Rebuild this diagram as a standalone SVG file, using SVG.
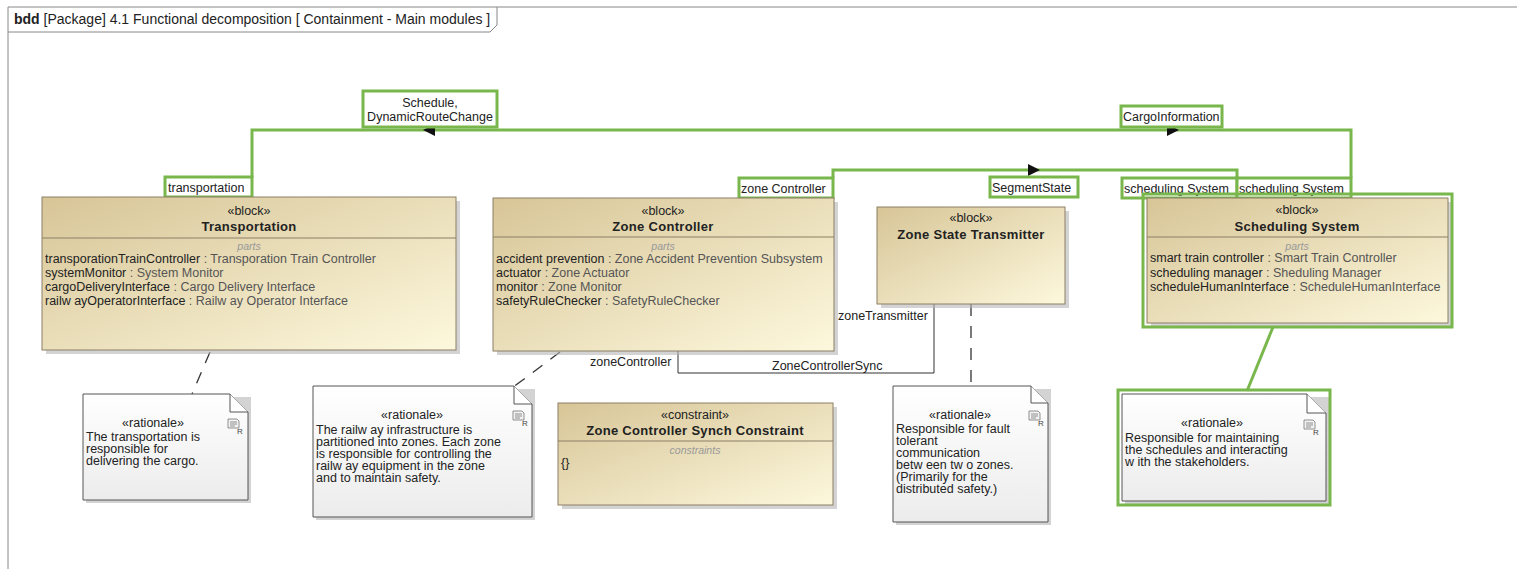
<svg xmlns="http://www.w3.org/2000/svg" width="1517" height="569" viewBox="0 0 1517 569">
<style>
text{font-family:"Liberation Sans",Arial,sans-serif;font-size:12.5px;fill:#222}
.hd{font-size:14px}
.b{font-weight:bold;font-size:13px;letter-spacing:0.3px}
.st{text-anchor:middle}
.pt{font-style:italic;fill:#999;font-size:10.5px;text-anchor:middle}
.ty{fill:#555}
.blk{fill:url(#bg);stroke:#8c7f66;stroke-width:1}
.sh{fill:#b5b5b5;opacity:0.6}
.sep{stroke:#8c7f66;stroke-width:1}
.note{fill:url(#ng);stroke:#555;stroke-width:1}
.fold{fill:#fff;stroke:#555;stroke-width:1}
.g{fill:none;stroke:#79b74c;stroke-width:3}
.lbl{fill:#fff;stroke:#79b74c;stroke-width:3}
.dash{stroke:#333;stroke-width:1.3;stroke-dasharray:12,10;fill:none}
.ln{stroke:#333;stroke-width:1;fill:none}
.flow{fill:#111}
.frame{stroke:#888;stroke-width:1;fill:none}
</style>
<defs>
<linearGradient id="bg" x1="0" y1="0" x2="1" y2="1">
<stop offset="0" stop-color="#d7c597"/>
<stop offset="1" stop-color="#fdf8dd"/>
</linearGradient>
<linearGradient id="ng" x1="0" y1="0" x2="0" y2="1">
<stop offset="0" stop-color="#ffffff"/>
<stop offset="1" stop-color="#ececec"/>
</linearGradient>
<g id="ricon">
<path d="M0,0 H9 L11,2 V9 H0 Z" fill="#f2f2f2" stroke="#777" stroke-width="0.8"/>
<path d="M2,3 H9 M2,5 H9 M2,7 H7" stroke="#777" stroke-width="0.8"/>
<text x="9" y="15" style="font-size:8px;fill:#444">R</text>
</g>
</defs>
<rect width="1517" height="569" fill="#fff"/>

<g id="frame">
<path class="frame" d="M8,569 V7 H1517"/>
<path class="frame" d="M8,32 H490 L497,25 V7"/>
<text class="hd" x="14" y="24"><tspan font-weight="bold">bdd</tspan> [Package] 4.1 Functional decomposition [ Containment - Main modules ]</text>
</g>

<g id="connectors">
<polyline class="g" points="252,178 252,130 1351,130 1351,178"/>
<polyline class="g" points="833,178 833,170 1237,170 1237,178"/>
<polygon class="flow" points="435,124 435,136 423,130"/>
<polygon class="flow" points="1167,124 1167,136 1179,130"/>
<polygon class="flow" points="1028,164 1028,176 1040,170"/>
<polyline class="ln" points="678,351 678,373 934,373 934,304"/>
<line class="dash" x1="210" y1="352" x2="192" y2="394"/>
<line class="dash" x1="560" y1="352" x2="512" y2="388"/>
<line class="dash" x1="971" y1="304" x2="971" y2="386"/>
<line class="g" x1="1273" y1="327" x2="1247" y2="391"/>
<text x="838" y="320">zoneTransmitter</text>
<text x="590" y="366">zoneController</text>
<text x="772" y="370">ZoneControllerSync</text>
</g>

<g id="labels">
<rect class="lbl" x="165" y="177" width="87" height="20"/>
<text x="168" y="192">transportation</text>
<rect class="lbl" x="363" y="91" width="134" height="36"/>
<text class="st" x="430" y="107">Schedule,</text>
<text class="st" x="430" y="121">DynamicRouteChange</text>
<rect class="lbl" x="1121" y="106" width="101" height="21"/>
<text x="1123" y="121">CargoInformation</text>
<rect class="lbl" x="739" y="178" width="94" height="20"/>
<text x="741" y="193">zone Controller</text>
<rect class="lbl" x="990" y="177" width="88" height="20"/>
<text x="992" y="192">SegmentState</text>
</g>

<g id="transportation">
<rect class="sh" x="46" y="201" width="414" height="153"/>
<rect class="blk" x="42" y="197" width="414" height="153"/>
<text class="st" x="249" y="215">«block»</text>
<text class="st b" x="249" y="231">Transportation</text>
<line class="sep" x1="42" y1="238" x2="456" y2="238"/>
<text class="pt" x="249" y="250">parts</text>
<text x="45" y="263">transporationTrainController<tspan class="ty"> : Transporation Train Controller</tspan></text>
<text x="45" y="277">systemMonitor<tspan class="ty"> : System Monitor</tspan></text>
<text x="45" y="291">cargoDeliveryInterface<tspan class="ty"> : Cargo Delivery Interface</tspan></text>
<text x="45" y="305">railw ayOperatorInterface<tspan class="ty"> : Railw ay Operator Interface</tspan></text>
</g>

<g id="zone-controller">
<rect class="sh" x="497" y="202" width="341" height="153"/>
<rect class="blk" x="493" y="198" width="341" height="153"/>
<text class="st" x="663" y="215">«block»</text>
<text class="st b" x="663" y="231">Zone Controller</text>
<line class="sep" x1="493" y1="237" x2="834" y2="237"/>
<text class="pt" x="663" y="250">parts</text>
<text x="496" y="263">accident prevention<tspan class="ty"> : Zone Accident Prevention Subsystem</tspan></text>
<text x="496" y="277">actuator<tspan class="ty"> : Zone Actuator</tspan></text>
<text x="496" y="291">monitor<tspan class="ty"> : Zone Monitor</tspan></text>
<text x="496" y="305">safetyRuleChecker<tspan class="ty"> : SafetyRuleChecker</tspan></text>
</g>

<g id="zone-state-transmitter">
<rect class="sh" x="881" y="211" width="188" height="97"/>
<rect class="blk" x="877" y="207" width="188" height="97"/>
<text class="st" x="971" y="222">«block»</text>
<text class="st b" x="971" y="239">Zone State Transmitter</text>
</g>

<g id="scheduling-system">
<rect class="lbl" x="1122" y="178" width="115" height="20"/>
<text x="1124" y="193">scheduling System</text>
<rect class="lbl" x="1237" y="178" width="114" height="20"/>
<text x="1239" y="193">scheduling System</text>
<rect class="sh" x="1151" y="202" width="301" height="125"/>
<rect class="g" x="1143" y="194" width="309" height="133"/>
<rect class="blk" x="1147" y="198" width="301" height="125"/>
<text class="st" x="1297" y="214">«block»</text>
<text class="st b" x="1297" y="231">Scheduling System</text>
<line class="sep" x1="1147" y1="237" x2="1448" y2="237"/>
<text class="pt" x="1297" y="250">parts</text>
<text x="1150" y="262">smart train controller<tspan class="ty"> : Smart Train Controller</tspan></text>
<text x="1150" y="277">scheduling manager<tspan class="ty"> : Sheduling Manager</tspan></text>
<text x="1150" y="291">scheduleHumanInterface<tspan class="ty"> : ScheduleHumanInterface</tspan></text>
</g>

<g id="constraint">
<rect class="sh" x="562" y="407" width="275" height="102"/>
<rect class="blk" x="558" y="403" width="275" height="102"/>
<text class="st" x="695" y="419">«constraint»</text>
<text class="st b" x="695" y="435">Zone Controller Synch Constraint</text>
<line class="sep" x1="558" y1="441" x2="833" y2="441"/>
<text class="pt" x="695" y="454">constraints</text>
<text x="561" y="467">{}</text>
</g>

<g id="note-transportation">
<path class="sh" d="M86,397 H251 V503 H86 Z"/>
<path class="note" d="M83,394 H230 L248,412 V500 H83 Z"/>
<path class="fold" d="M230,394 V412 H248"/>
<use href="#ricon" x="228" y="419"/>
<text class="st" x="153" y="427">«rationale»</text>
<text x="86" y="441">The transportation is</text>
<text x="86" y="453">responsible for</text>
<text x="86" y="465">delivering the cargo.</text>
</g>

<g id="note-railway">
<path class="sh" d="M316,389 H535 V520 H316 Z"/>
<path class="note" d="M313,386 H514 L532,404 V517 H313 Z"/>
<path class="fold" d="M514,386 V404 H532"/>
<use href="#ricon" x="513" y="411"/>
<text class="st" x="412" y="419">«rationale»</text>
<text x="316" y="434">The railw ay infrastructure is</text>
<text x="316" y="446">partitioned into zones. Each zone</text>
<text x="316" y="458">is responsible for controlling the</text>
<text x="316" y="470">railw ay equipment in the zone</text>
<text x="316" y="482">and to maintain safety.</text>
</g>

<g id="note-zst">
<path class="sh" d="M896,389 H1051 V525 H896 Z"/>
<path class="note" d="M893,386 H1031 L1048,403 V522 H893 Z"/>
<path class="fold" d="M1031,386 V403 H1048"/>
<use href="#ricon" x="1029" y="411"/>
<text class="st" x="960" y="419">«rationale»</text>
<text x="896" y="433">Responsible for fault</text>
<text x="896" y="445">tolerant</text>
<text x="896" y="457">communication</text>
<text x="896" y="469">betw een tw o zones.</text>
<text x="896" y="481">(Primarily for the</text>
<text x="896" y="493">distributed safety.)</text>
</g>

<g id="note-scheduling">
<path class="sh" d="M1125,397 H1329 V504 H1125 Z"/>
<rect class="g" x="1118" y="390" width="212" height="115"/>
<path class="note" d="M1122,394 H1307 L1326,413 V501 H1122 Z"/>
<path class="fold" d="M1307,394 V413 H1326"/>
<use href="#ricon" x="1304" y="420"/>
<text class="st" x="1212" y="427">«rationale»</text>
<text x="1125" y="442">Responsible for maintaining</text>
<text x="1125" y="454">the schedules and  interacting</text>
<text x="1125" y="466">w ith the stakeholders.</text>
</g>
</svg>
